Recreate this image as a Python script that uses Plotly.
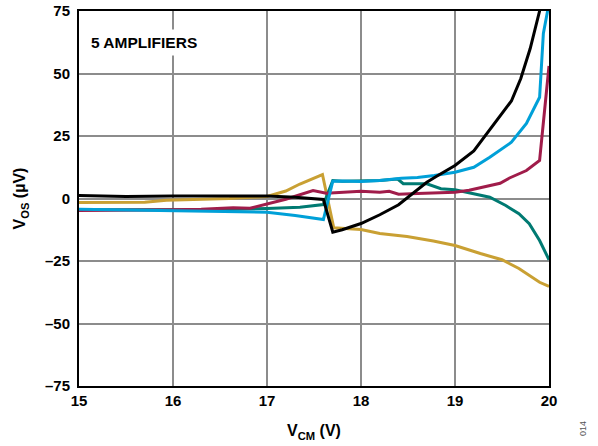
import plotly.graph_objects as go

# ---- data ----
black_x = [15, 15.5, 16, 16.5, 17, 17.3, 17.6, 17.7, 17.8, 18, 18.2, 18.4, 18.5, 18.6, 18.7, 18.8, 18.9, 19,
           19.2, 19.4, 19.6, 19.7, 19.8, 19.9, 19.96]
black_y = [1.2, 0.8, 1.0, 1.0, 1.0, 0.5, -0.4, -13.5, -12.5, -10, -6.5, -2.5, 0.5, 3.5, 6.5, 8.8, 11, 13.2,
           19, 29, 39, 48, 60, 75, 86]

cyan_x = [15, 15.5, 16, 16.5, 17, 17.3, 17.6, 17.7, 17.8, 18, 18.2, 18.43, 18.6, 18.78, 19, 19.2, 19.37,
          19.6, 19.76, 19.9, 19.94, 20]
cyan_y = [-4.3, -4.6, -4.8, -5.0, -5.5, -6.8, -8.4, 6.9, 7.0, 6.8, 7.2, 8.1, 8.4, 9.2, 10.5, 12.5, 16.5,
          22.5, 30, 40.5, 66, 78]

teal_x = [15, 16, 16.5, 17, 17.35, 17.6, 17.7, 17.8, 18, 18.2, 18.39, 18.45, 18.7, 18.85, 19, 19.19, 19.37,
          19.54, 19.68, 19.79, 19.9, 20]
teal_y = [-4.5, -4.5, -4.5, -4.0, -3.5, -2.4, 7.2, 6.9, 7.0, 7.2, 7.8, 5.9, 5.9, 3.9, 3.5, 1.9, 0.5,
          -2.8, -6.1, -10.1, -16.8, -24.5]

crimson_x = [15, 15.5, 16, 16.3, 16.64, 16.82, 17, 17.2, 17.49, 17.63, 18, 18.2, 18.3, 18.4, 18.6, 18.8, 19,
             19.15, 19.3, 19.48, 19.58, 19.76, 19.9, 20]
crimson_y = [-4.8, -4.8, -4.5, -4.3, -3.7, -3.9, -2.2, -0.3, 3.2, 2.1, 2.9, 2.5, 2.9, 1.7, 2.0, 2.1, 2.5,
             3.3, 4.5, 6.1, 8.2, 11.2, 15.2, 53]

gold_x = [15, 15.3, 15.7, 15.93, 16.3, 16.6, 17, 17.2, 17.35, 17.59, 17.71, 18, 18.2, 18.49, 18.77, 19,
          19.27, 19.5, 19.68, 19.9, 20]
gold_y = [-1.6, -1.5, -1.5, -0.7, -0.4, 0.0, 0.8, 3.0, 5.8, 9.6, -11.7, -12.4, -14, -15.2, -17, -18.8,
          -22, -24.5, -28, -33.5, -35.2]

x_ticks = [15, 16, 17, 18, 19, 20]
y_ticks = [-75, -50, -25, 0, 25, 50, 75]
y_tick_text = ["–75", "–50", "–25", "0", "25", "50", "75"]

FONT = "Liberation Sans, Arial, sans-serif"

fig = go.Figure()
series = [
    (gold_x, gold_y, "#C9A033"),
    (teal_x, teal_y, "#007A72"),
    (crimson_x, crimson_y, "#A01C4A"),
    (cyan_x, cyan_y, "#00A0D8"),
    (black_x, black_y, "#000000"),
]
for xs, ys, c in series:
    fig.add_trace(go.Scatter(x=xs, y=ys, mode="lines",
                             line=dict(color=c, width=3), showlegend=False, hoverinfo="skip"))

fig.update_layout(
    width=598, height=446,
    margin=dict(l=79, r=49, t=11, b=60, autoexpand=False),
    paper_bgcolor="white", plot_bgcolor="white",
    font=dict(family=FONT, color="black"),
    xaxis=dict(range=[15, 20], tickvals=x_ticks, ticktext=[str(v) for v in x_ticks],
               showgrid=True, gridcolor="#8C8C8C", gridwidth=2, automargin=False,
               showline=True, linecolor="black", linewidth=2, mirror=True,
               zeroline=False, ticks="", ticklen=0,
               tickfont=dict(family=FONT, size=15, color="black", weight="bold"),
               title=dict(text="<b>V<sub>CM</sub> (V)</b>", font=dict(family=FONT, size=16), standoff=17)),
    yaxis=dict(range=[-75, 75], tickvals=y_ticks, ticktext=y_tick_text,
               showgrid=True, gridcolor="#8C8C8C", gridwidth=2, automargin=False,
               showline=True, linecolor="black", linewidth=2, mirror=True,
               zeroline=False, ticks="", ticklen=0, ticklabelstandoff=4,
               tickfont=dict(family=FONT, size=15, color="black", weight="bold"),
               title=dict(text="<b>V<sub>OS</sub> (µV)</b>", font=dict(family=FONT, size=16), standoff=15)),
)

fig.add_annotation(x=(86 - 79) / 470, y=(386 - 42) / 375, xref="paper", yref="paper",
                   xanchor="left", yanchor="middle",
                   text="<b>5 AMPLIFIERS</b>", showarrow=False, bgcolor="white", borderpad=4,
                   font=dict(family=FONT, size=15.5, color="black"))

fig.add_annotation(x=(583 - 79) / 470, y=(386 - 429) / 375, xref="paper", yref="paper",
                   xanchor="center", yanchor="middle",
                   text="014", showarrow=False, textangle=-90,
                   font=dict(family=FONT, size=9, color="#555555"))

fig.write_html("out.html", config={"displayModeBar": False},
               post_script="document.body.style.margin='0';")
